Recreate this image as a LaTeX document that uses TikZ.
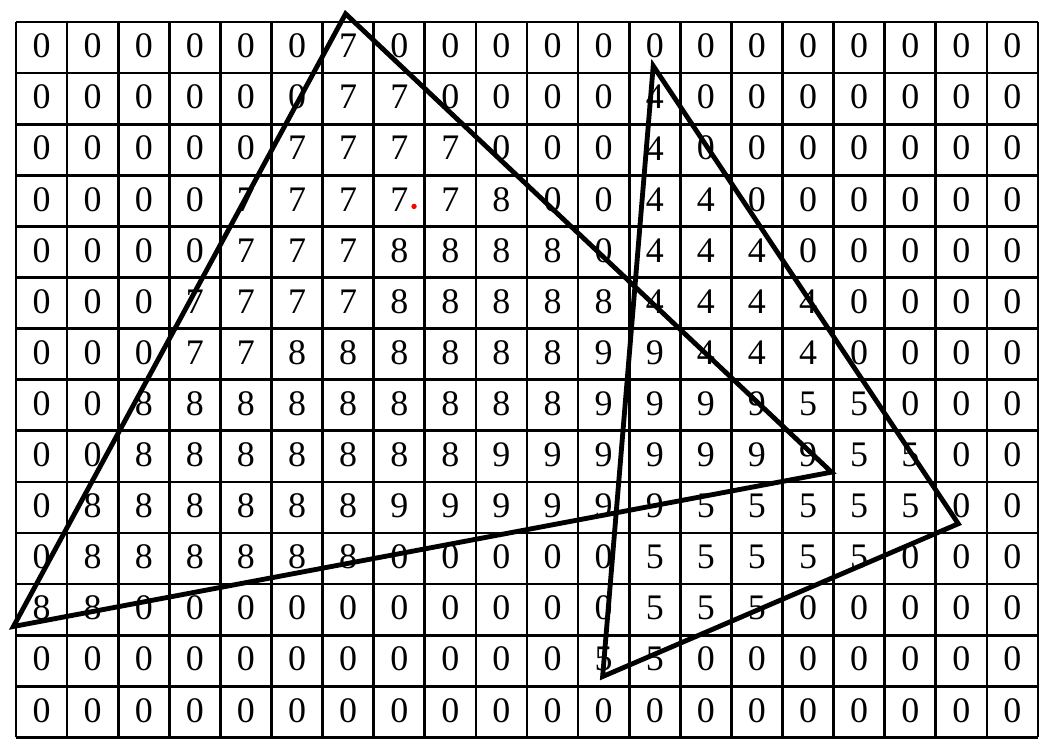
\documentclass[tikz,border=0pt]{standalone}
\usepackage{fontspec}
\setmainfont{Liberation Serif}
\usepackage{tikz}

\begin{document}
\begin{tikzpicture}[
    cell/.style={font=\fontsize{20}{21}\selectfont, inner sep=0pt},
    gridline/.style={line width=1.5pt},
    edgeline/.style={line width=2.7pt, line join=miter},
    seed/.style={circle, fill=red, inner sep=0pt, minimum size=3pt}
]
    \useasboundingbox (-0.313,-0.274) rectangle (20.196,14.43);

    % the raster
    \draw[gridline] (0,0) grid (20,14);

    % pixel values, top row first
    \foreach \vals [count=\r] in {
        {0,0,0,0,0,0,7,0,0,0,0,0,0,0,0,0,0,0,0,0},
        {0,0,0,0,0,0,7,7,0,0,0,0,4,0,0,0,0,0,0,0},
        {0,0,0,0,0,7,7,7,7,0,0,0,4,0,0,0,0,0,0,0},
        {0,0,0,0,7,7,7,7,7,8,0,0,4,4,0,0,0,0,0,0},
        {0,0,0,0,7,7,7,8,8,8,8,0,4,4,4,0,0,0,0,0},
        {0,0,0,7,7,7,7,8,8,8,8,8,4,4,4,4,0,0,0,0},
        {0,0,0,7,7,8,8,8,8,8,8,9,9,4,4,4,0,0,0,0},
        {0,0,8,8,8,8,8,8,8,8,8,9,9,9,9,5,5,0,0,0},
        {0,0,8,8,8,8,8,8,8,9,9,9,9,9,9,9,5,5,0,0},
        {0,8,8,8,8,8,8,9,9,9,9,9,9,5,5,5,5,5,0,0},
        {0,8,8,8,8,8,8,0,0,0,0,0,5,5,5,5,5,0,0,0},
        {8,8,0,0,0,0,0,0,0,0,0,0,5,5,5,0,0,0,0,0},
        {0,0,0,0,0,0,0,0,0,0,0,5,5,0,0,0,0,0,0,0},
        {0,0,0,0,0,0,0,0,0,0,0,0,0,0,0,0,0,0,0,0}}{
        \foreach \v [count=\c] in \vals {
            \node[cell] (px-\r-\c) at (\c-0.5, 14.53-\r) {\v};
        }
    }

    % the two triangles
    \coordinate (t1top) at (6.45,14.16);
    \coordinate (t1left) at (-0.05,2.17);
    \coordinate (t1right) at (15.96,5.19);
    \coordinate (t2top) at (12.47,13.14);
    \coordinate (t2right) at (18.44,4.18);
    \coordinate (t2bottom) at (11.48,1.19);

    \draw[edgeline] (t1top) -- (t1left) -- (t1right) -- cycle;
    \draw[edgeline] (t2top) -- (t2right) -- (t2bottom) -- cycle;

    \node[seed] (seedpt) at (7.79,10.39) {};
\end{tikzpicture}
\end{document}
